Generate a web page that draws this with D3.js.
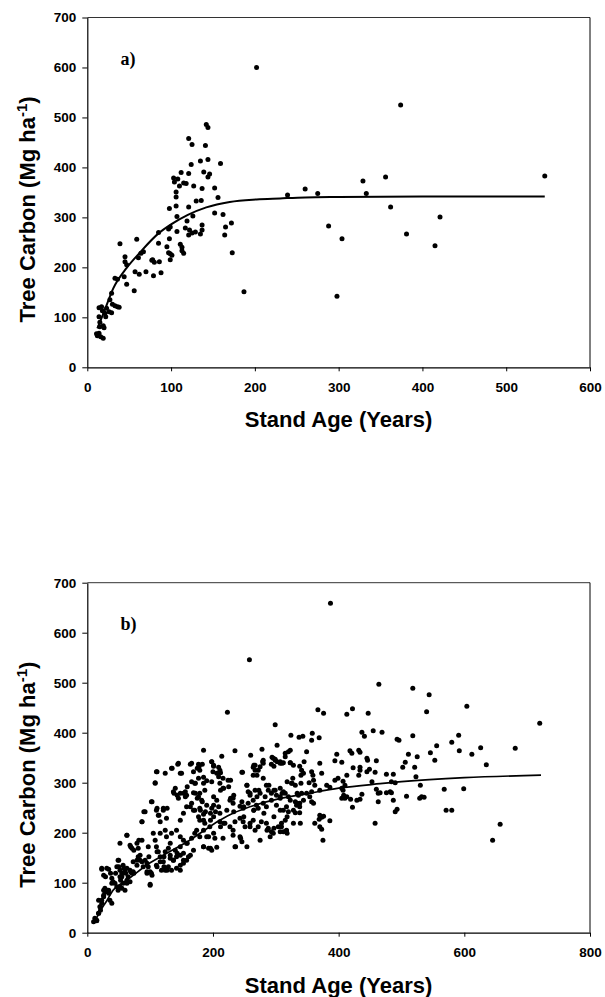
<!DOCTYPE html>
<html lang="en">
<head>
<meta charset="utf-8">
<title>Tree Carbon vs Stand Age</title>
<script src="https://cdn.jsdelivr.net/npm/d3@7"></script>
<style>
  html, body { margin: 0; padding: 0; background: white; }
  svg { display: block; }
  .tick text { font-family: "Liberation Sans", Arial, sans-serif; font-weight: bold; font-size: 13.5px; fill: black; }
  .title { font-family: "Liberation Sans", Arial, sans-serif; font-weight: bold; font-size: 22px; fill: black; }
  .panel { font-family: "Liberation Serif", "Times New Roman", serif; font-weight: bold; font-size: 18px; fill: black; }
</style>
</head>
<body>
<script>

var w = 605;
var h = 997;

// tick labels
var xTicksA = [0, 100, 200, 300, 400, 500, 600];
var xTicksB = [0, 200, 400, 600, 800];
var yTicks = [0, 100, 200, 300, 400, 500, 600, 700];

// panel a) plots: stand age (years) and tree carbon (Mg/ha)
var ageA = [202,142,144,121,125,141,159,135,144,124,103,108,112,121,139,144,146,104,110,115,118,127,137,152,106,106,130,136,156,121,106,98,152,162,107,126,119,172,165,99,97,117,107,122,125,129,137,135,121,164,85,98,85,59,39,95,111,113,113,115,97,99,99,173,67,64,61,78,86,45,45,47,
  33,36,44,47,56,57,62,70,77,80,79,88,101,137,187,239,
  14,14,17,18,21,22,23,26,29,27,29,30,33,36,38,15,14,12,16,19,11,19,20,15,
  260,275,288,298,304,329,333,356,362,374,381,415,421,546];
var carbonA = [600,486,480,458,446,444,408,413,416,406,379,377,390,388,391,381,387,371,363,369,368,363,358,359,351,341,333,334,340,321,323,318,309,306,302,303,293,289,281,281,277,279,272,275,269,271,275,267,265,265,270,257,248,256,247,241,246,240,233,228,229,227,215,229,231,228,219,215,211,221,211,205,
  178,176,181,166,153,191,186,191,214,210,183,189,224,285,151,345,
  119,101,121,113,108,101,118,111,109,135,148,126,123,121,120,81,68,63,61,58,67,83,79,90,
  357,348,283,142,257,373,348,381,321,525,267,243,301,383];

// panel a) fitted line
var fitAgeA = [12, 20, 31, 47, 63, 85, 100, 120, 142, 170, 202, 230, 260, 300, 400, 546];
var fitCarbonA = [78, 111, 158, 199, 230, 268, 286, 305, 320, 331, 336, 338, 340, 341, 342, 342];

// panel b) plots
var ageB = [258,223,299,324,302,
  387,464,518,544,367,376,413,422,447,540,604,720,337,343,358,357,369,437,441,455,469,493,496,518,556,580,591,626,681,
  592,612,635,546,553,511,525,506,502,521,460,445,446,434,449,458,432,423,418,421,432,434,397,394,405,413,370,349,345,338,341,344,340,357,359,373,360,353,323,315,307,312,323,328,327,325,331,340,362,370,381,386,394,399,407,410,405,407,408,405,410,413,419,422,429,434,437,434,445,453,476,487,484,490,482,484,476,460,463,463,487,490,493,458,508,523,530,529,532,536,568,571,580,599,645,657,375,370,373,376,373,369,362,370,386,331,338,315,317,309,466,
  307,315,320,323,331,333,338,338,344,354,357,360,357,349,312,317,320,328,336,341,307,312,
  185,235,214,260,278,198,201,209,211,212,179,185,190,247,264,267,272,279,280,264,280,296,299,302,293,307,297,211,216,224,216,254,256,267,275,285,288,293,299,301,307,283,259,179,187,201,206,190,179,198,209,185,201,211,222,227,232,232,243,246,248,256,264,269,272,280,285,293,301,307,179,187,195,185,201,211,219,227,232,235,243,248,251,259,264,267,272,277,285,288,293,296,304,309,312,317,179,190,203,216,232,243,246,235,185,193,198,206,
  10,15,12,18,20,23,18,26,28,31,26,34,36,39,21,28,23,34,26,39,41,44,47,49,55,49,47,52,55,57,60,63,68,71,73,65,63,68,57,52,60,52,63,52,68,71,79,81,87,84,92,95,97,100,102,95,87,81,79,73,89,100,87,92,102,110,116,113,121,126,124,116,105,108,110,113,116,124,129,121,132,137,142,148,153,140,132,126,134,142,148,153,158,166,171,174,148,153,158,166,171,177,158,161,153,148,118,116,110,124,129,134,142,148,97,137,148,158,169,177,182,145,
  110,108,134,145,150,166,178,169,171,177,156,140,166,
  320,315,323,310,294,299,280,275,265,267,270,246,
  198,201,200,206,209,
  183,175,164,177,144,135,124,111,148,108,
  159,172,185,
  198,228,225,233,228,217,212,
  254,259,273,270,289,297,310,318,326,334,
  103,90,87,111,121,127,114,
  138,143,153,156,172,175,183,164,169,180,188,196,201,204,196,185,
  63,82,69,74,98,111,122,132,143,148,159,169,164,153,137,122,127,111,95,103,100,84,79,69,58,50,37,29,23,31,50,53,63,74,
  185,196,236,244,254,275,291,297,318,307,286,328,339,265,259,249,217,212,193,233,249,265,281,297,318,334,
  15,18,21,23,26,29,34,39,45,55,61];
var carbonB = [546,441,416,395,375,
  659,497,489,476,446,439,437,448,439,442,453,419,391,393,399,385,390,401,393,404,401,387,385,394,374,381,395,370,369,
  364,357,336,360,345,357,352,341,331,331,344,349,345,331,327,321,315,330,364,359,365,361,357,344,341,315,339,362,342,333,325,319,315,322,315,319,305,300,365,359,342,340,340,335,309,299,295,299,295,285,295,291,305,309,303,295,289,285,275,269,269,272,267,251,265,267,277,325,322,302,317,317,302,300,282,280,280,287,279,262,265,242,247,219,273,312,295,269,272,271,287,245,245,288,185,217,185,212,207,233,231,227,219,235,224,240,240,225,204,212,280,
  269,279,272,265,262,255,252,259,265,272,262,259,282,279,245,252,242,245,275,279,289,282,
  365,364,353,355,367,342,333,331,325,320,325,311,304,321,331,335,325,342,345,315,309,349,345,342,337,339,333,299,289,305,309,295,282,285,279,295,285,279,285,275,272,272,275,279,285,272,265,255,249,249,252,237,232,239,245,265,269,259,253,262,249,259,265,255,249,259,252,265,255,245,225,219,212,205,199,222,219,212,205,222,229,222,212,219,225,205,212,222,219,209,202,199,212,219,202,205,192,192,189,189,195,192,182,172,172,169,165,171,
  22,24,29,39,52,59,65,72,82,85,85,79,65,59,45,89,127,127,115,109,102,99,92,85,89,145,132,125,119,135,122,129,125,119,122,112,105,102,99,92,85,112,195,179,175,169,179,169,185,155,145,139,132,122,119,119,142,152,145,142,132,95,222,242,262,245,222,235,249,229,205,199,199,185,172,162,152,162,169,142,149,145,152,155,159,165,179,192,199,205,192,185,179,189,199,205,225,239,252,259,245,232,145,152,139,125,125,142,135,125,132,125,129,135,172,282,279,275,280,272,265,269,
  322,299,329,339,319,339,333,322,299,309,282,289,302,
  362,352,340,339,351,347,339,332,335,325,315,321,
  342,335,322,319,312,
  337,329,337,337,337,329,319,322,319,300,
  292,299,299,
  302,305,292,275,269,289,285,
  295,279,285,272,295,285,279,302,299,279,
  262,242,222,249,245,249,235,
  279,275,279,272,279,269,262,252,245,245,242,239,255,242,225,225,
  195,185,172,165,152,162,152,155,159,172,179,165,155,145,145,132,125,132,122,115,97,145,135,122,129,132,119,112,129,129,145,105,99,119,
  172,169,172,189,172,185,192,209,199,202,205,219,219,245,212,232,219,212,192,242,252,245,239,232,232,259,
  25,39,52,65,75,82,85,99,119,112,119];

// panel b) fitted line
var fitAgeB = [12, 20, 30, 41, 63, 100, 121, 163, 211, 232, 250, 306, 350, 400, 466, 500, 600, 722];
var fitCarbonB = [22, 42, 62, 85, 105, 140, 155, 185, 225, 239, 248, 268, 278, 289, 298, 302, 310, 315];

var svg = d3.select("body")
  .append("svg")
  .attr("width", w)
  .attr("height", h);

svg.append("rect").attr("width", w).attr("height", h).attr("fill", "white");

function drawPanel(p) {
  var g = svg.append("g");

  var xScale = d3.scaleLinear().domain(p.xDomain).range([87.3, 590]);
  var yScale = d3.scaleLinear().domain([0, 700]).range([p.bottom, p.top]);

  // frame (top and right)
  g.append("line")
    .attr("x1", xScale.range()[0]).attr("x2", xScale.range()[1])
    .attr("y1", yScale(700)).attr("y2", yScale(700))
    .attr("stroke", "#333").attr("stroke-width", 1);
  g.append("line")
    .attr("x1", xScale.range()[1]).attr("x2", xScale.range()[1])
    .attr("y1", yScale(700)).attr("y2", yScale(0))
    .attr("stroke", "black").attr("stroke-width", 1);

  var xAxis = d3.axisBottom(xScale)
    .tickValues(p.xTicks)
    .tickFormat(d3.format("d"))
    .tickSize(4)
    .tickPadding(11)
    .tickSizeOuter(0);
  var yAxis = d3.axisLeft(yScale)
    .tickValues(yTicks)
    .tickFormat(d3.format("d"))
    .tickSize(5)
    .tickPadding(6)
    .tickSizeOuter(0);

  g.append("g")
    .attr("transform", "translate(0," + p.bottom + ")")
    .call(xAxis);
  g.append("g")
    .attr("transform", "translate(87.3,0)")
    .call(yAxis);

  g.selectAll(".domain").attr("stroke", "black").attr("stroke-width", 1.2);

  // points
  g.selectAll("circle")
    .data(p.ages)
    .enter()
    .append("circle")
    .attr("cx", function(d) { return xScale(d); })
    .attr("cy", function(d, i) { return yScale(p.carbons[i]); })
    .attr("r", 2.5)
    .attr("fill", "black");

  // fitted curve
  var line = d3.line()
    .x(function(d) { return xScale(d[0]); })
    .y(function(d) { return yScale(d[1]); })
    .curve(d3.curveMonotoneX);

  g.append("path")
    .datum(d3.zip(p.fitAges, p.fitCarbons))
    .attr("d", line)
    .attr("fill", "none")
    .attr("stroke", "black")
    .attr("stroke-width", p.lineWidth);

  // panel letter
  g.append("text")
    .attr("class", "panel")
    .attr("x", 120.5)
    .attr("y", p.top + 47)
    .text(p.letter);

  // axis titles
  g.append("text")
    .attr("class", "title")
    .attr("x", 338.6)
    .attr("y", p.bottom + 60)
    .attr("text-anchor", "middle")
    .text("Stand Age (Years)");

  var yt = g.append("text")
    .attr("class", "title")
    .attr("text-anchor", "middle")
    .attr("transform", "translate(35," + ((p.top + p.bottom) / 2 + 17) + ") rotate(-90)");
  yt.append("tspan").text("Tree Carbon (Mg ha");
  yt.append("tspan").attr("font-size", "15px").attr("dy", "-8").text("-1");
  yt.append("tspan").attr("dy", "8").text(")");
}

drawPanel({
  top: 17.5, bottom: 367.3, xDomain: [0, 600], xTicks: xTicksA,
  ages: ageA, carbons: carbonA, fitAges: fitAgeA, fitCarbons: fitCarbonA,
  letter: "a)", lineWidth: 2
});

drawPanel({
  top: 582.7, bottom: 932.7, xDomain: [0, 800], xTicks: xTicksB,
  ages: ageB, carbons: carbonB, fitAges: fitAgeB, fitCarbons: fitCarbonB,
  letter: "b)", lineWidth: 1.7
});

</script>
</body>
</html>
